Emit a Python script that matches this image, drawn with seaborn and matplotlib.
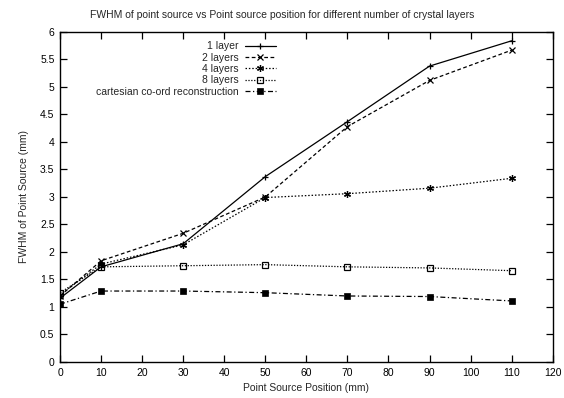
import matplotlib
matplotlib.use("Agg")
import matplotlib.pyplot as plt
import seaborn as sns
import pandas as pd
from matplotlib.ticker import FuncFormatter, MultipleLocator

positions = [0, 10, 30, 50, 70, 90, 110]
layer1 = [1.16, 1.73, 2.15, 3.37, 4.37, 5.38, 5.84]
layer2 = [1.20, 1.84, 2.34, 3.00, 4.28, 5.12, 5.67]
layer4 = [1.22, 1.78, 2.13, 2.99, 3.06, 3.16, 3.34]
layer8 = [1.26, 1.73, 1.75, 1.77, 1.73, 1.71, 1.66]
cartesian = [1.05, 1.29, 1.29, 1.26, 1.20, 1.19, 1.11]

labels = ["1 layer", "2 layers", "4 layers", "8 layers", "cartesian co-ord reconstruction"]
series = [layer1, layer2, layer4, layer8, cartesian]

title = "FWHM of point source vs Point source position for different number of crystal layers"
xlabel = "Point Source Position (mm)"
ylabel = "FWHM of Point Source (mm)"

sns.set_theme(style="ticks")
plt.rcParams["font.family"] = ["Liberation Sans", "DejaVu Sans"]
plt.rcParams["font.size"] = 7.5

fig = plt.figure(figsize=(5.64, 3.98), dpi=100)
ax = fig.add_axes([0.1064, 0.0905, 0.8736, 0.8291])

styles = [
    dict(linestyle="-", marker="+", markersize=5, markeredgewidth=0.9),
    dict(linestyle=(0, (3, 2)), marker="x", markersize=4, markeredgewidth=0.9),
    dict(linestyle=(0, (1.2, 1.5)), marker=(6, 2, 0), markersize=5, markeredgewidth=0.9),
    dict(linestyle=(0, (1, 1.3)), marker="s", markersize=4, fillstyle="none", markeredgewidth=0.9),
    dict(linestyle=(0, (4, 2, 1, 2)), marker="s", markersize=4, markeredgewidth=0.5),
]

for lab, vals, st in zip(labels, series, styles):
    df = pd.DataFrame({"x": positions, "y": vals})
    sns.lineplot(data=df, x="x", y="y", ax=ax, label=lab, color="black",
                 linewidth=0.9, markeredgecolor="black",
                 markerfacecolor="black" if st.get("fillstyle") != "none" else "none",
                 **{k: v for k, v in st.items() if k != "fillstyle"})

ax.set_xlim(0, 120)
ax.set_ylim(0, 6)
ax.xaxis.set_major_locator(MultipleLocator(10))
ax.yaxis.set_major_locator(MultipleLocator(0.5))
ax.yaxis.set_major_formatter(FuncFormatter(lambda v, p: f"{v:g}"))
ax.tick_params(direction="in", top=True, right=True, length=5, width=0.9,
               labelsize=7.5, pad=4, colors="black")
for sp in ax.spines.values():
    sp.set_visible(True)
    sp.set_linewidth(1.0)
    sp.set_color("black")

fig.text(0.5, 1 - 15 / 398, title, fontsize=7.5, ha="center", va="center")
ax.set_xlabel(xlabel, fontsize=7.5, labelpad=4)
ax.set_ylabel(ylabel, fontsize=7.5, labelpad=8)

leg = ax.legend(loc="upper right", bbox_to_anchor=(0.438, 0.972), frameon=False,
                markerfirst=False, handlelength=3.0, handletextpad=0.6,
                labelspacing=0.13, fontsize=7.5, borderaxespad=0.0, borderpad=0.0)

fig.savefig("out.png", dpi=100)
